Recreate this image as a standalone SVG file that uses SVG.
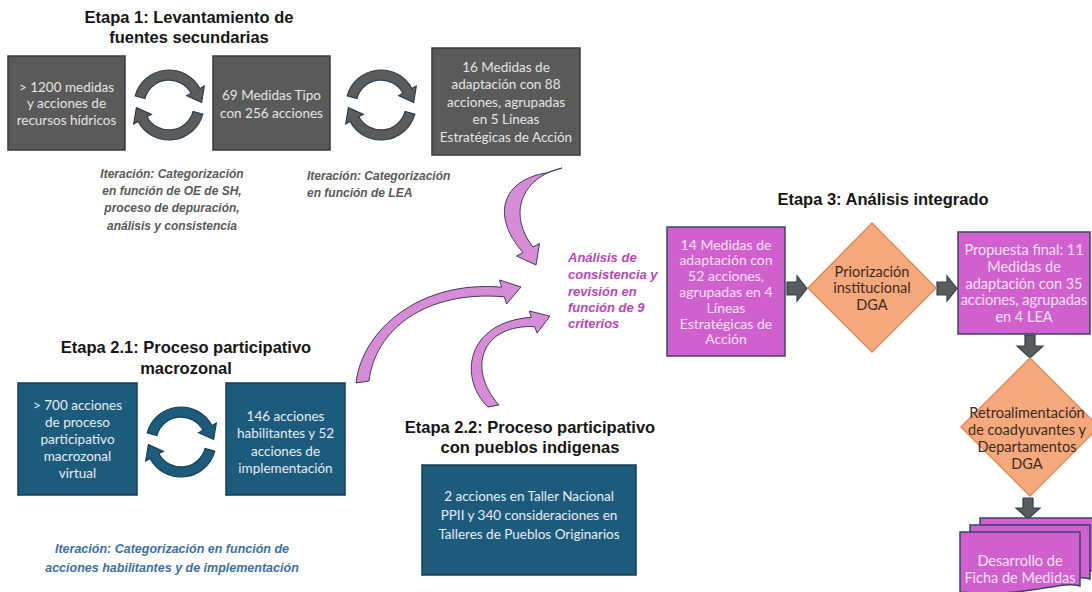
<svg xmlns="http://www.w3.org/2000/svg" width="1092" height="592" viewBox="0 0 1092 592">
<style>
.title{font-family:"Liberation Sans",Arial,sans-serif;font-weight:bold;font-size:16.5px;fill:#161616;text-anchor:middle}
.gbox{fill:#5a5a5a;stroke:#3a3a3a;stroke-width:1.5}
.tbox{fill:#1d5b7d;stroke:#153f57;stroke-width:1.5}
.pbox{fill:#d160cf;stroke:#36456a;stroke-width:1.5}
.dia{fill:#f5a87b;stroke:#e58a55;stroke-width:1.5}
.bt{font-family:Lato,"Open Sans",sans-serif;font-size:13.5px;text-anchor:middle}
.gt{fill:#e4e4e4}
.tt{fill:#e6edf2}
.pt{fill:#f8e1f6}
.dt{fill:#3b2b22}
.it{font-family:"Liberation Sans",Arial,sans-serif;font-style:italic;font-weight:bold;font-size:12px}
.garr{fill:#5b5b5b;stroke:#2c4252;stroke-width:1.2}
.cgray{fill:#5c5c5c;stroke:#2e3f4b;stroke-width:1.2}
.cteal{fill:#1d5b7d;stroke:#153f57;stroke-width:1.2}
.parr{fill:#d78cd7;stroke:#3f3a58;stroke-width:1}
</style>
<defs>
<path id="halfcirc" d="M -33.8,-9.1 A 35 35 0 0 1 30.9,-16.4 L 35.3,-18.8 L 32.6,-2.6 L 17.7,-9.4 L 22.1,-11.7 A 25 25 0 0 0 -24.1,-6.5 Z"/>
</defs>

<g id="titles">
<text class="title" x="189" y="23">Etapa 1: Levantamiento de</text>
<text class="title" x="189" y="43">fuentes secundarias</text>
<text class="title" x="883" y="205">Etapa 3: Análisis integrado</text>
<text class="title" x="186" y="353">Etapa 2.1: Proceso participativo</text>
<text class="title" x="186" y="374">macrozonal</text>
<text class="title" x="530" y="433">Etapa 2.2: Proceso participativo</text>
<text class="title" x="530" y="453">con pueblos indigenas</text>
</g>

<g id="connectors">
<use href="#halfcirc" class="cgray" transform="translate(169,105)"/>
<use href="#halfcirc" class="cgray" transform="translate(169,105) rotate(180)"/>
<use href="#halfcirc" class="cgray" transform="translate(381,105)"/>
<use href="#halfcirc" class="cgray" transform="translate(381,105) rotate(180)"/>
<use href="#halfcirc" class="cteal" transform="translate(181,442)"/>
<use href="#halfcirc" class="cteal" transform="translate(181,442) rotate(180)"/>
<path class="parr" d="M 562,168 C 520,178 508,215 533,247 L 539.5,243.5 L 536,265 L 516.5,256 L 523,252.5 C 490,215 503,180 546,173 Z"/>
<path class="parr" d="M 356,383 C 362,330 420,280 501.6,287.2 L 499.6,280 L 521,287 L 506.6,304 L 504.4,296.8 C 425,290 375,330 369,381 Z"/>
<path class="parr" d="M 488,407 C 458,378 466,322 531.3,317.3 L 529.3,311 L 550,316.2 L 537,333 L 534.7,326.7 C 482,324 466,368 499,405 Z"/>
<path class="garr" d="M787,282 H797 V276 L807,288.5 L797,301 V295 H787 Z"/>
<path class="garr" d="M937,282 H947 V276 L957,288.5 L947,301 V295 H937 Z"/>
<path class="garr" d="M1025,335 V346 H1017 L1030,358 L1043,346 H1035 V335 Z"/>
<path class="garr" d="M1023,498 V508 H1016 L1028,519 L1040,508 H1033 V498 Z"/>
</g>

<g id="n1">
<rect class="gbox" x="8" y="56" width="117" height="94"/>
<text class="bt gt" x="66.5" y="91.5">&gt; 1200 medidas</text>
<text class="bt gt" x="66.5" y="108">y acciones de</text>
<text class="bt gt" x="66.5" y="124.5">recursos hídricos</text>
</g>
<g id="n2">
<rect class="gbox" x="213" y="56" width="117" height="94"/>
<text class="bt gt" x="271.5" y="99.5">69 Medidas Tipo</text>
<text class="bt gt" x="271.5" y="117.5">con 256 acciones</text>
</g>
<g id="n3">
<rect class="gbox" x="432" y="48" width="148" height="107"/>
<text class="bt gt" x="506" y="71.5">16 Medidas de</text>
<text class="bt gt" x="506" y="89">adaptación con 88</text>
<text class="bt gt" x="506" y="106.5">acciones, agrupadas</text>
<text class="bt gt" x="506" y="124">en 5 Líneas</text>
<text class="bt gt" x="506" y="141.5">Estratégicas de Acción</text>
</g>
<g id="iter1">
<text class="it" fill="#595959" text-anchor="middle" x="172" y="178">Iteración: Categorización</text>
<text class="it" fill="#595959" text-anchor="middle" x="172" y="195">en función de OE de SH,</text>
<text class="it" fill="#595959" text-anchor="middle" x="172" y="212">proceso de depuración,</text>
<text class="it" fill="#595959" text-anchor="middle" x="172" y="230">análisis y consistencia</text>
</g>
<g id="iter2">
<text class="it" fill="#595959" x="307" y="180">Iteración: Categorización</text>
<text class="it" fill="#595959" x="307" y="197">en función de LEA</text>
</g>
<g id="analisis">
<text class="it" fill="#b845b8" style="font-size:13px" x="568" y="261.5">Análisis de</text>
<text class="it" fill="#b845b8" style="font-size:13px" x="568" y="278.5">consistencia y</text>
<text class="it" fill="#b845b8" style="font-size:13px" x="568" y="295.5">revisión en</text>
<text class="it" fill="#b845b8" style="font-size:13px" x="568" y="311.5">función de 9</text>
<text class="it" fill="#b845b8" style="font-size:13px" x="568" y="327.5">criterios</text>
</g>

<g id="n4">
<rect class="pbox" x="667" y="227" width="118" height="129"/>
<g class="bt pt" style="font-size:14px">
<text x="726" y="249.5">14 Medidas de</text>
<text x="726" y="265.3">adaptación con</text>
<text x="726" y="281.1">52 acciones,</text>
<text x="726" y="296.9">agrupadas en 4</text>
<text x="726" y="312.7">Líneas</text>
<text x="726" y="328.5">Estratégicas de</text>
<text x="726" y="344.3">Acción</text>
</g>
</g>
<g id="n5">
<path class="dia" d="M872,223 L936,288 L872,352 L808,288 Z"/>
<g class="bt dt" style="font-size:14.5px">
<text x="872" y="276.5">Priorización</text>
<text x="872" y="293">institucional</text>
<text x="872" y="309.5">DGA</text>
</g>
</g>
<g id="n6">
<rect class="pbox" x="958" y="232" width="132" height="102"/>
<g class="bt pt" style="font-size:14.5px">
<text x="1024" y="255">Propuesta final: 11</text>
<text x="1024" y="271.8">Medidas de</text>
<text x="1024" y="288.6">adaptación con 35</text>
<text x="1024" y="305.4">acciones, agrupadas</text>
<text x="1024" y="322.2">en 4 LEA</text>
</g>
</g>
<g id="n7">
<path class="dia" d="M1030,358 L1099,427 L1030,496 L961,427 Z"/>
<g class="bt dt" style="font-size:14.5px">
<text x="1027" y="418">Retroalimentación</text>
<text x="1027" y="435">de coadyuvantes y</text>
<text x="1027" y="452">Departamentos</text>
<text x="1027" y="469">DGA</text>
</g>
</g>
<g id="n8">
<path class="pbox" d="M980,518 H1100 V572 C1080,566 1050,584 980,578 Z"/>
<path class="pbox" d="M970,525 H1090 V579 C1070,573 1040,591 970,585 Z"/>
<path class="pbox" d="M960,532 H1080 V586 C1060,580 1030,598 960,592 Z"/>
<g class="bt pt" style="font-size:14.5px">
<text x="1020" y="566">Desarrollo de</text>
<text x="1020" y="583">Ficha de Medidas</text>
</g>
</g>

<g id="n9">
<rect class="tbox" x="18" y="383" width="119" height="112"/>
<g class="bt tt">
<text x="77.5" y="409.5">&gt; 700 acciones</text>
<text x="77.5" y="426.7">de proceso</text>
<text x="77.5" y="443.9">participativo</text>
<text x="77.5" y="461.1">macrozonal</text>
<text x="77.5" y="478.3">virtual</text>
</g>
</g>
<g id="n10">
<rect class="tbox" x="226" y="383" width="119" height="112"/>
<g class="bt tt">
<text x="285.5" y="420.5">146 acciones</text>
<text x="285.5" y="438">habilitantes y 52</text>
<text x="285.5" y="455.5">acciones de</text>
<text x="285.5" y="473">implementación</text>
</g>
</g>
<g id="iter3">
<text class="it" fill="#3c6fa6" style="font-size:12.5px" text-anchor="middle" x="172" y="553">Iteración: Categorización en función de</text>
<text class="it" fill="#3c6fa6" style="font-size:12.5px" text-anchor="middle" x="172" y="572">acciones habilitantes y de implementación</text>
</g>
<g id="n11">
<rect class="tbox" x="422" y="465" width="214" height="110"/>
<g class="bt tt">
<text x="529" y="500.5">2 acciones en Taller Nacional</text>
<text x="529" y="519.5">PPII y 340 consideraciones en</text>
<text x="529" y="538.5">Talleres de Pueblos Originarios</text>
</g>
</g>
</svg>
